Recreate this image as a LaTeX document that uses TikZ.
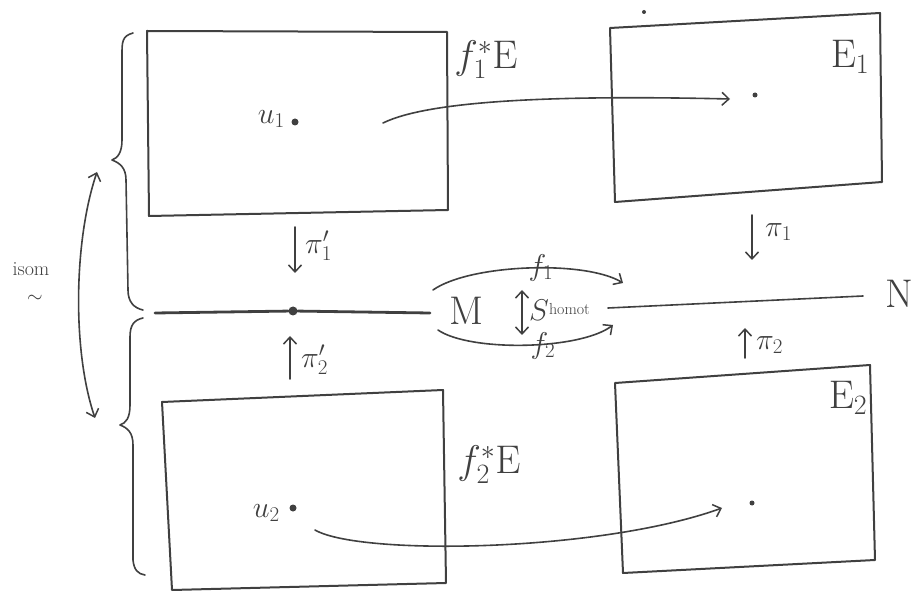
\RequirePackage{fix-cm}
\documentclass[tikz,border=0pt]{standalone}
\usetikzlibrary{arrows.meta}
\definecolor{ink}{HTML}{404040}
\begin{document}
\begin{tikzpicture}[x=1pt,y=-1pt,
  pen/.style={draw=ink, line width=2pt, line cap=round, line join=round},
  thin pen/.style={draw=ink, line width=1.6pt, line cap=round, line join=round},
  arr/.style={thin pen, -{Straight Barb[length=7pt,width=13pt,line width=1.5pt]}},
  dbl/.style={thin pen, {Straight Barb[length=7pt,width=13pt,line width=1.5pt]}-{Straight Barb[length=7pt,width=13pt,line width=1.5pt]}},
  dotmark/.style={circle, fill=ink, inner sep=0pt, minimum size=#1},
  dotmark/.default=7pt,
  big/.style={text=ink, inner sep=0pt, font=\fontsize{40}{44}\selectfont},
  mid/.style={text=ink, inner sep=0pt, font=\fontsize{30}{34}\selectfont},
  small/.style={text=ink, inner sep=0pt, font=\fontsize{20}{22}\selectfont}]

% page
\path[use as bounding box, fill=white] (0,0) rectangle (914,596);

% ---- the four boxes (slightly skewed, hand drawn) ----
\draw[pen] (147,31) -- (447,32) -- (448,210) -- (149,216) -- cycle;
\draw[pen] (610,28) -- (880,13) -- (882,182) -- (615,202) -- cycle;
\draw[pen] (162,402) -- (443,390) -- (446,583) -- (172,590) -- cycle;
\draw[pen] (615,383) -- (870,365) -- (875,560) -- (623,573) -- cycle;

% ---- braces on the left ----
\draw[thin pen] (133,33) .. controls (122,36) and (122,42) .. (122,55)
  -- (122,140) .. controls (122,152) and (118,158) .. (112,160)
  .. controls (120,163) and (126,168) .. (126,180)
  -- (128,290) .. controls (128,302) and (134,308) .. (143,310);
\draw[thin pen] (143,318) .. controls (134,320) and (130,325) .. (130,337)
  -- (130,405) .. controls (130,418) and (126,423) .. (120,425)
  .. controls (128,428) and (133,433) .. (133,445)
  -- (133,560) .. controls (134,570) and (138,574) .. (145,575);

% isomorphism arrow and its label
\coordinate (isoT) at (97,172);
\coordinate (isoB) at (95,418);
\draw[dbl] (isoT) .. controls (74,240) and (72,350) .. (isoB);
\node[small] (isom) at (31,269) {isom};
\node[small, inner sep=0pt] (tilde) at (35,299) {$\sim$};

% ---- base spaces ----
\node[dotmark=9pt] (mdot) at (293,311) {};
\coordinate (mL) at (155,313);
\coordinate (mR) at (430,313);
\draw[pen, line width=2.8pt] (mL) -- (mdot) -- (mR);
\node[big] (M) at (466,311) {$\mathrm{M}$};

\coordinate (nL) at (608,308);
\coordinate (nR) at (863,296);
\draw[thin pen] (nL) -- (nR);
\node[big] (N) at (899,294) {$\mathrm{N}$};

% maps f1, f2 and the homotopy between them
\coordinate (f1s) at (433,290);
\coordinate (f1e) at (623,283);
\coordinate (f2s) at (438,330);
\coordinate (f2e) at (613,325);
\draw[arr] (f1s) .. controls (470,264) and (585,260) .. (f1e);
\draw[arr] (f2s) .. controls (470,352) and (580,350) .. (f2e);
\node[mid] (f1) at (541,268) {$f_1$};
\node[mid] (f2) at (543,346) {$f_2$};
\coordinate (hT) at (522,290);
\coordinate (hB) at (522,335);
\draw[dbl] (hT) -- (hB);
\node[mid, anchor=west] (S) at (529,310) {$S$\raisebox{6pt}{\fontsize{16}{18}\selectfont homot}};

% ---- projections ----
\coordinate (p1t) at (295,227);
\coordinate (p1b) at (295,273);
\draw[arr] (p1t) -- (p1b);
\node[mid, anchor=west] (pi1p) at (305,246) {$\pi_1'$};

\coordinate (q1t) at (752,215);
\coordinate (q1b) at (752,260);
\draw[arr] (q1t) -- (q1b);
\node[mid, anchor=west] (pi1) at (765,232) {$\pi_1$};

\coordinate (p2b) at (290,379);
\coordinate (p2t) at (290,336);
\draw[arr] (p2b) -- (p2t);
\node[mid, anchor=west] (pi2p) at (301,360) {$\pi_2'$};

\coordinate (q2b) at (745,358);
\coordinate (q2t) at (745,328);
\draw[arr] (q2b) -- (q2t);
\node[mid, anchor=west] (pi2) at (756,345) {$\pi_2$};

% ---- box labels ----
\node[big] (pb1) at (486,60) {$f_1^{*}\mathrm{E}$};
\node[big] (pb2) at (489,465) {$f_2^{*}\mathrm{E}$};
\node[big] (E1) at (850,57) {$\mathrm{E}_1$};
\node[big] (E2) at (848,398) {$\mathrm{E}_2$};

% ---- points in the fibres ----
\node[dotmark] (u1dot) at (295,122) {};
\node[mid, anchor=east] (u1) at (285,119) {$u_1$};
\node[dotmark=5pt] (e1dot) at (755,95) {};
\coordinate (a1s) at (383,123);
\coordinate (a1e) at (730,99);
\draw[arr] (a1s) .. controls (430,100) and (560,95) .. (a1e);

\node[dotmark] (u2dot) at (293,508) {};
\node[mid, anchor=east] (u2) at (280,513) {$u_2$};
\node[dotmark=5pt] (e2dot) at (752,503) {};
\coordinate (a2s) at (315,530);
\coordinate (a2e) at (722,508);
\draw[arr] (a2s) .. controls (360,556) and (600,552) .. (a2e);

% stray pencil dot
\node[dotmark=4pt] (stray) at (644,12) {};
\end{tikzpicture}
\end{document}
